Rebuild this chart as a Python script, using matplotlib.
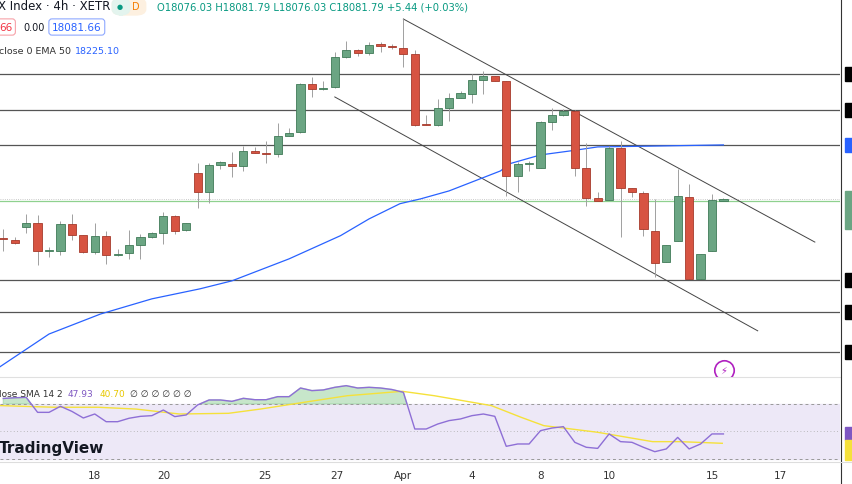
import matplotlib
matplotlib.use("Agg")
import matplotlib.pyplot as plt
from matplotlib.patches import FancyBboxPatch
import numpy as np

# ── candle data (4h bars, price) ─────────────────────────────
opens = [18001, 17998, 18030, 18040, 17970, 17970, 18038, 18010, 17968, 18008,
         17960, 17965, 17985, 18005, 18015, 18058, 18022, 18165, 18118, 18185,
         18188, 18182, 18220, 18215, 18212, 18258, 18268, 18388, 18375, 18380,
         18455, 18472, 18465, 18488, 18482, 18478, 18462, 18288, 18285, 18328,
         18352, 18362, 18398, 18408, 18395, 18158, 18188, 18178, 18292, 18310,
         18320, 18178, 18102, 18098, 18228, 18128, 18115, 18020, 17942, 17995,
         18105, 17900, 17970, 18095]
highs = [18025, 18005, 18062, 18060, 17980, 18045, 18062, 18010, 18040, 18020,
         17975, 18022, 18012, 18018, 18068, 18060, 18040, 18190, 18190, 18195,
         18218, 18232, 18230, 18245, 18290, 18278, 18390, 18405, 18395, 18468,
         18495, 18475, 18492, 18492, 18488, 18550, 18472, 18310, 18350, 18365,
         18370, 18412, 18420, 18408, 18395, 18192, 18195, 18295, 18328, 18325,
         18322, 18240, 18118, 18232, 18245, 18128, 18120, 18100, 17985, 18175,
         18138, 17962, 18112, 18102]
lows = [17970, 17988, 18015, 17935, 17955, 17960, 17998, 17965, 17962, 17938,
        17958, 17950, 17950, 18002, 17988, 18012, 18020, 18078, 18090, 18175,
        18155, 18170, 18215, 18190, 18205, 18258, 18265, 18355, 18372, 18378,
        18452, 18458, 18460, 18468, 18475, 18430, 18282, 18285, 18282, 18295,
        18352, 18340, 18362, 18395, 18108, 18118, 18170, 18178, 18272, 18308,
        18158, 18082, 18095, 18098, 18005, 18105, 18008, 17905, 17942, 17995,
        17900, 17900, 17970, 18095]
closes = [17999, 17990, 18040, 17970, 17972, 18038, 18010, 17968, 18008, 17960,
          17962, 17985, 18005, 18015, 18058, 18020, 18040, 18118, 18185, 18192,
          18182, 18220, 18215, 18212, 18258, 18265, 18388, 18375, 18378, 18455,
          18472, 18465, 18485, 18482, 18480, 18462, 18285, 18286, 18328, 18352,
          18365, 18398, 18408, 18395, 18158, 18188, 18189, 18292, 18310, 18320,
          18178, 18102, 18095, 18228, 18128, 18118, 18025, 17940, 17985, 18108,
          17900, 17962, 18098, 18100]

# EMA 50 (bar index, value)
ema_idx = [-0.3, 4, 8.5, 13, 17.2, 20, 25, 29.5, 32, 34.7, 36.5, 39, 41.7, 43.5,
           44.3, 47, 49.6, 52, 56.6, 63]
ema_val = [17680, 17762, 17812, 17850, 17875, 17895, 17950, 18008, 18050, 18088,
           18100, 18120, 18150, 18170, 18188, 18210, 18220, 18230, 18232, 18235]

# horizontal levels and channel lines
levels = [18412, 18322, 18235, 17898, 17818, 17718]
last_close = 18095
upper_chan = ([35.0, 71.0], [18550, 17992])
lower_chan = ([29.0, 66.0], [18355, 17770])

# RSI 14 and its SMA
rsi = [74.0, 74.5, 74.8, 63.9, 63.9, 68.3, 64.6, 59.8, 62.7, 57.1,
       57.1, 59.6, 61.0, 61.5, 65.6, 60.8, 62.0, 69.3, 72.9, 72.9,
       71.9, 74.1, 73.1, 73.1, 75.3, 75.3, 81.6, 79.7, 80.2, 82.1,
       83.3, 81.6, 82.1, 81.6, 80.5, 78.5, 51.8, 51.8, 55.4, 57.9,
       59.1, 61.5, 62.7, 61.0, 39.2, 40.9, 40.9, 50.6, 52.5, 53.5,
       42.1, 38.5, 37.7, 48.2, 42.6, 42.1, 38.5, 35.3, 37.3, 45.7,
       37.3, 40.9, 48.2, 48.2]
sma_idx = [-0.3, 4.5, 8.3, 11.6, 15.4, 19.7, 22.5, 26.3, 30.1, 34.9, 37.7,
           42.7, 45.3, 47.3, 49.2, 52.0, 56.8, 59.2, 62.9]
sma_val = [68.8, 67.6, 67.6, 66.3, 62.7, 63.2, 66.3, 71.2, 76.0, 79.2, 76.0,
           68.8, 60.3, 54.2, 52.3, 49.4, 42.6, 42.6, 41.4]

tick_pos = [8.0, 14.0, 22.9, 29.2, 35.0, 41.0, 47.0, 53.0, 62.0, 68.0]
tick_lab = ["18", "20", "25", "27", "Apr", "4", "8", "10", "15", "17"]

UP, DOWN = "#6ba583", "#d75442"
W, H = 852, 485

fig = plt.figure(figsize=(W / 100, H / 100), dpi=100)
ax = fig.add_axes([0, (H - 377) / H, 840 / W, 377 / H])
ax2 = fig.add_axes([0, (H - 463) / H, 840 / W, 85 / H], sharex=ax)

xs = np.arange(len(opens))
for lv in levels:
    ax.axhline(lv, color="#555555", lw=0.9, zorder=1)
ax.axhline(last_close + 5, color="#bbbbbb", lw=0.6, ls=":", zorder=1)
ax.axhline(last_close, color="#8fd18f", lw=0.9, zorder=1)
ax.plot(*upper_chan, color="#444444", lw=0.7, zorder=2)
ax.plot(*lower_chan, color="#444444", lw=0.7, zorder=2)
ax.plot(ema_idx, ema_val, color="#2962ff", lw=0.9, zorder=2)

o, c = np.array(opens), np.array(closes)
cols = [UP if cc >= oo else DOWN for oo, cc in zip(o, c)]
edges = ["#3f7a57" if cc >= oo else "#a63a2c" for oo, cc in zip(o, c)]
ax.vlines(xs, lows, highs, color="#a0a0a0", lw=0.7, zorder=3)
body = np.maximum(np.abs(c - o), 2)
ax.bar(xs, body, bottom=np.minimum(o, c), width=0.72, color=cols,
       edgecolor=edges, linewidth=0.6, zorder=4)

ax.set_xlim(-0.29, 73.2)
ax.set_ylim(17657, 18600)
ax.axis("off")
# alert icon
ax.plot([63.05], [17672], "o", ms=14, mfc="white", mec="#b020c0", mew=1.2, zorder=6)
ax.text(63.05, 17672, "⚡", color="#b020c0", fontsize=7, ha="center", va="center", zorder=7)

# RSI panel
ax2.axhspan(30, 70, color="#ede8f7", zorder=0)
ax2.axhline(70, color="#999999", lw=0.7, ls=(0, (3, 3)))
ax2.axhline(50, color="#aaaaaa", lw=0.6, ls=(0, (1, 3)))
ax2.axhline(30, color="#999999", lw=0.7, ls=(0, (3, 3)))
r = np.array(rsi)
ax2.fill_between(xs, 70, r, where=r > 70, interpolate=True, color="#9ad3a0", alpha=0.55)
ax2.plot(sma_idx, sma_val, color="#f5e13a", lw=1.0)
ax2.plot(xs, rsi, color="#8e6fd6", lw=1.0)
ax2.set_ylim(27.8, 89.6)
ax2.set_yticks([])
for s in ["left", "right", "bottom"]:
    ax2.spines[s].set_visible(False)
ax2.spines["top"].set_color("#e0e0e0")
ax2.set_xticks(tick_pos)
ax2.set_xticklabels(tick_lab, fontsize=7.5, color="#333333")
ax2.tick_params(axis="x", length=0, pad=6)

# right-edge price axis fragment
fig.add_artist(plt.Line2D([840.5 / W] * 2, [0, 1], color="#333333", lw=0.8))
fig.add_artist(plt.Line2D([0, 1], [(H - 463) / H] * 2, color="#dddddd", lw=0.8))
for y0, y1, col in [(68, 82, "black"), (104, 118, "black"), (139, 153, "#2962ff"),
                    (192, 230, "#6ba583"), (274, 288, "black"), (306, 320, "black"),
                    (346, 360, "black"), (428, 441, "#7e57c2"), (441, 461, "#f5e13a")]:
    fig.patches.append(plt.Rectangle((845 / W, 1 - y1 / H), 7 / W, (y1 - y0) / H,
                                     transform=fig.transFigure, color=col))

def px(x, y):
    return x / W, 1 - y / H

fig.text(*px(-2, 7), "X Index · 4h · XETR", fontsize=8.5, color="#131722", va="center")
fig.patches.append(FancyBboxPatch(px(114, 15), 30 / W, 15 / H,
                                  boxstyle="round,pad=0.002,rounding_size=0.012",
                                  transform=fig.transFigure, color="#fdf0e0"))
fig.patches.append(FancyBboxPatch(px(114, 15), 14 / W, 15 / H,
                                  boxstyle="round,pad=0.002,rounding_size=0.012",
                                  transform=fig.transFigure, color="#e3f4ee"))
fig.text(*px(117, 7.5), "●", fontsize=5, color="#089981", va="center")
fig.text(*px(132, 7.5), "D", fontsize=7, color="#f57c00", va="center")
fig.text(*px(157, 7), "O18076.03 H18081.79 L18076.03 C18081.79 +5.44 (+0.03%)",
         fontsize=7.2, color="#089981", va="center")
fig.text(*px(-1, 28), "66", fontsize=7.5, color="#f23645", va="center",
         bbox=dict(boxstyle="round,pad=0.3", fc="white", ec="#f7a1a8", lw=0.8))
fig.text(*px(23, 28), "0.00", fontsize=7, color="#131722", va="center")
fig.text(*px(52, 28), "18081.66", fontsize=7.5, color="#2962ff", va="center",
         bbox=dict(boxstyle="round,pad=0.3", fc="white", ec="#8fa9ff", lw=0.8))
fig.text(*px(-1, 51), "close 0 EMA 50", fontsize=6.8, color="#333333", va="center")
fig.text(*px(75, 51), "18225.10", fontsize=6.8, color="#2962ff", va="center")
fig.text(*px(-1, 395), "lose SMA 14 2", fontsize=6.5, color="#333333", va="center")
fig.text(*px(68, 395), "47.93", fontsize=6.5, color="#7e57c2", va="center")
fig.text(*px(100, 395), "40.70", fontsize=6.5, color="#e8c800", va="center")
fig.text(*px(130, 395), "∅ ∅ ∅ ∅ ∅ ∅", fontsize=6.5, color="#333333", va="center")
fig.text(*px(-1, 448), "TradingView", fontsize=11, fontweight="bold", color="#131722",
         va="center")

fig.savefig("out.png", dpi=100)
